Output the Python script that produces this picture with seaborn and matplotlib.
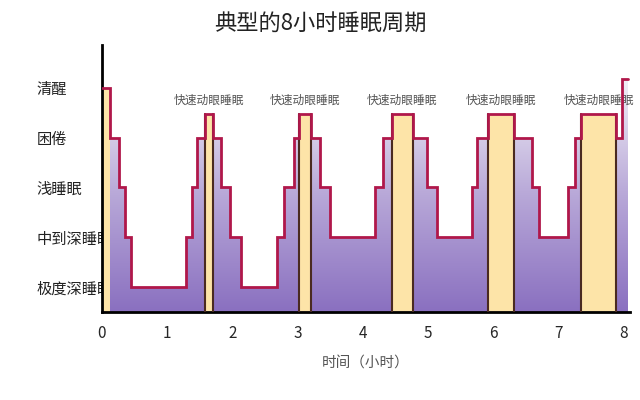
import matplotlib
matplotlib.use("Agg")
import matplotlib.pyplot as plt
import numpy as np
import seaborn as sns
from matplotlib.colors import LinearSegmentedColormap
from matplotlib.patches import Polygon

STAGES = ["极度深睡眠", "中到深睡眠", "浅睡眠", "困倦", "清醒"]
REM_LEVEL = 3.48
BASE = -0.5

# step boundaries (hours) and the level held after each boundary
EDGES = [0, 0.12, 0.26, 0.35, 0.45, 1.29, 1.39, 1.46, 1.58, 1.70, 1.83, 1.96, 2.14,
         2.69, 2.79, 2.94, 3.02, 3.20, 3.35, 3.50, 4.18, 4.31, 4.44, 4.77, 4.98,
         5.14, 5.67, 5.75, 5.92, 6.32, 6.59, 6.70, 7.15, 7.25, 7.35, 7.88, 7.97, 8.07]
LEVELS = [4, 3, 2, 1, 0, 1, 2, 3, REM_LEVEL, 3, 2, 1, 0, 1, 2, 3, REM_LEVEL, 3, 2, 1,
          2, 3, REM_LEVEL, 3, 2, 1, 2, 3, REM_LEVEL, 3, 2, 1, 2, 3, REM_LEVEL, 3, 4.18]
REM_SPANS = [(1.58, 1.70), (3.02, 3.20), (4.44, 4.77), (5.92, 6.32), (7.35, 7.88)]

sns.set_theme(style="white")
plt.rcParams["font.family"] = ["Noto Sans CJK SC", "DejaVu Sans"]

fig = plt.figure(figsize=(6.4, 4.0), dpi=100)
ax = fig.add_axes([0.159, 0.22, 0.825, 0.6675])
ax.set_xlim(0, 8.09)
ax.set_ylim(BASE, 4.86)

xs, ys = [], []
for i, lv in enumerate(LEVELS):
    xs += [EDGES[i], EDGES[i + 1]]
    ys += [lv, lv]

poly = Polygon(list(zip(xs, ys)) + [(xs[-1], BASE), (xs[0], BASE)], closed=True,
               facecolor="none", edgecolor="none")
ax.add_patch(poly)
cmap = LinearSegmentedColormap.from_list("g", ["#8a70c0", "#b8a8d8", "#f2f0f6"])
grad = np.linspace(0, 1, 256).reshape(-1, 1)
im = ax.imshow(grad, aspect="auto", cmap=cmap, origin="lower",
               extent=[0, 8.09, BASE, 4.2], zorder=1)
im.set_clip_path(poly)

# awake segment at start and REM bars in yellow
ax.fill_between([EDGES[0], EDGES[1]], BASE, 4, color="#fde4a8", zorder=2, lw=0)
for a, b in REM_SPANS:
    ax.fill_between([a, b], BASE, REM_LEVEL, color="#fde4a8", zorder=2, lw=0)
    ax.plot([a, a], [BASE, REM_LEVEL], color="#4a2a20", lw=1.5, zorder=3)
    ax.plot([b, b], [BASE, REM_LEVEL], color="#4a2a20", lw=1.5, zorder=3)
    ax.text((a + b) / 2, 3.75, "快速动眼睡眠", ha="center", va="center",
            fontsize=8.5, color="#555555")

ax.plot(xs, ys, color="#b0174a", lw=2, zorder=4, solid_joinstyle="miter")

ax.set_yticks(range(5))
ax.set_yticklabels(STAGES, fontsize=11, color="#222222", ha="left")
ax.set_xticks(range(9))
ax.tick_params(axis="y", length=0, pad=47)
ax.tick_params(axis="x", length=6, width=1, direction="out", labelsize=11, color="#333333")
ax.set_xlabel("时间（小时）", fontsize=10.5, color="#555555", labelpad=10)
for s in ["top", "right"]:
    ax.spines[s].set_visible(False)
for s in ["left", "bottom"]:
    ax.spines[s].set_color("black")
    ax.spines[s].set_linewidth(2)
fig.suptitle("典型的8小时睡眠周期", fontsize=16, y=0.97, color="#222222")

fig.savefig("out.png", dpi=100)
